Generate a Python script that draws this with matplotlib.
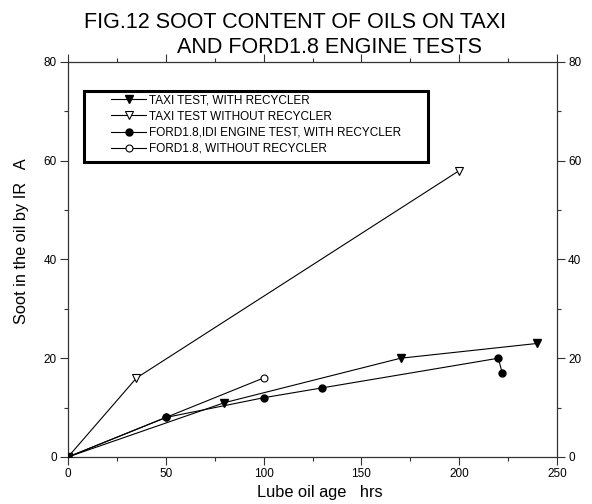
"""Soot content of lube oils on the taxi and Ford 1.8 engine tests."""

import matplotlib
matplotlib.use('Agg')  # noqa
import matplotlib.pyplot as plt
from matplotlib.patches import Rectangle
from matplotlib.ticker import MultipleLocator

plt.rcParams['font.family'] = ['Liberation Sans', 'DejaVu Sans']

# hours on oil vs soot by IR
taxi_rec_hrs = [0, 80, 170, 240]
taxi_rec_soot = [0, 11, 20, 23]

taxi_norec_hrs = [0, 35, 200]
taxi_norec_soot = [0, 16, 58]

ford_rec_hrs = [0, 50, 100, 130, 220, 222]
ford_rec_soot = [0, 8, 12, 14, 20, 17]

ford_norec_hrs = [0, 50, 100]
ford_norec_soot = [0, 8, 16]

labels = ['TAXI TEST, WITH RECYCLER',
          'TAXI TEST WITHOUT RECYCLER',
          'FORD1.8,IDI ENGINE TEST, WITH RECYCLER',
          'FORD1.8, WITHOUT RECYCLER']

fig = plt.figure(figsize=(5.92, 5.04), dpi=100)
ax = fig.add_axes([0.1149, 0.0933, 0.826, 0.7837])

lw = 0.8
ax.plot(taxi_rec_hrs, taxi_rec_soot, color='black', lw=lw, marker='v',
        ms=6, mfc='black', mec='black', label=labels[0])
ax.plot(taxi_norec_hrs, taxi_norec_soot, color='black', lw=lw, marker='v',
        ms=6, mfc='white', mec='black', mew=0.8, label=labels[1])
ax.plot(ford_rec_hrs, ford_rec_soot, color='black', lw=lw, marker='o',
        ms=5, mfc='black', mec='black', label=labels[2], zorder=3)
ax.plot(ford_norec_hrs, ford_norec_soot, color='black', lw=lw, marker='o',
        ms=5, mfc='white', mec='black', mew=0.8, label=labels[3], zorder=2)

ax.set_xlim(0, 250)
ax.set_ylim(0, 80)
ax.xaxis.set_major_locator(MultipleLocator(50))
ax.xaxis.set_minor_locator(MultipleLocator(25))
ax.yaxis.set_major_locator(MultipleLocator(20))
ax.yaxis.set_minor_locator(MultipleLocator(10))
ax.tick_params(which='both', direction='out', top=True, right=True,
               labelright=True, labelsize=8.5, width=0.8, color='#333333')
ax.tick_params(which='major', length=6, pad=2)
ax.tick_params(which='minor', length=3)
for s in ax.spines.values():
    s.set_linewidth(0.9)
    s.set_color('#333333')

ax.set_xlabel('Lube oil age   hrs', fontsize=11.8)
ax.xaxis.set_label_coords(0.515, -0.072)
ax.set_ylabel('Soot in the oil by IR   A', fontsize=11.8)
ax.yaxis.set_label_coords(-0.08, 0.547)

# legend frame is drawn separately so the padding can be uneven
ax.add_patch(Rectangle((0.0327, 0.747), 0.7035, 0.18, transform=ax.transAxes,
                       fill=False, lw=2.2, ec='black', zorder=4))
ax.legend(loc='upper left', bbox_to_anchor=(0.088, 0.918), frameon=False,
          fontsize=8.5, handlelength=3.0, handletextpad=0.2, borderpad=0,
          labelspacing=0.35, borderaxespad=0)

fig.text(0.498, 0.944, 'FIG.12 SOOT CONTENT OF OILS ON TAXI', fontsize=15.5,
         ha='center', va='baseline')
fig.text(0.556, 0.895, 'AND FORD1.8 ENGINE TESTS', fontsize=15.5,
         ha='center', va='baseline')

plt.savefig('out.png', dpi=100)
